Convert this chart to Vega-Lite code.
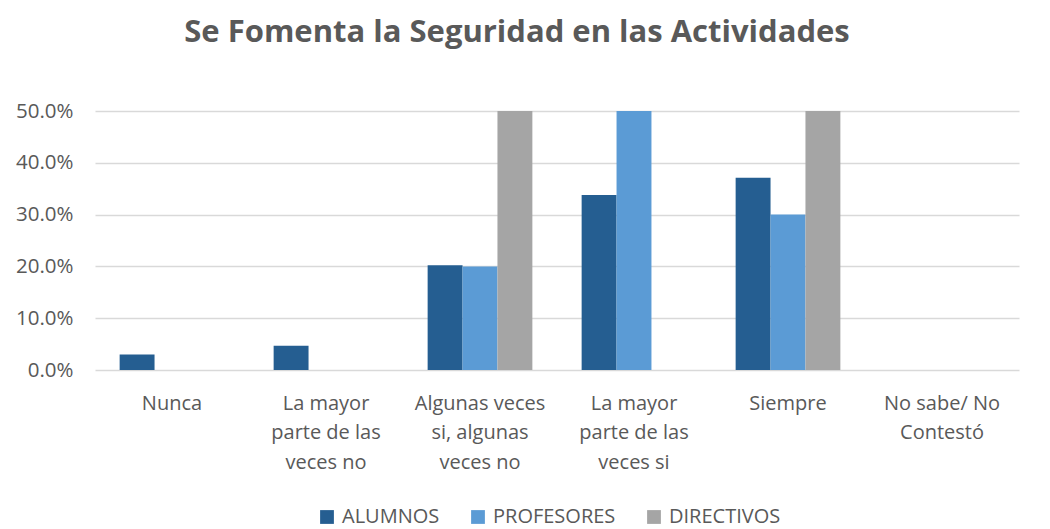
{
  "$schema": "https://vega.github.io/schema/vega-lite/v6.json",
  "autosize": {"type": "none"},
  "width": 924,
  "height": 259,
  "padding": {"left": 95, "top": 111, "right": 31, "bottom": 159},
  "background": "white",
  "title": {
    "text": "Se Fomenta la Seguridad en las Actividades",
    "font": "Open Sans",
    "fontSize": 31,
    "fontWeight": "bold",
    "color": "#595959",
    "anchor": "middle",
    "dx": -40,
    "offset": 52
  },
  "config": {"view": {"stroke": null}},
  "data": {
    "values": [
      {"categoria": "Nunca", "grupo": "ALUMNOS", "valor": 0.03},
      {"categoria": "Nunca", "grupo": "PROFESORES", "valor": 0},
      {"categoria": "Nunca", "grupo": "DIRECTIVOS", "valor": 0},
      {"categoria": "La mayor parte de las veces no", "grupo": "ALUMNOS", "valor": 0.047},
      {"categoria": "La mayor parte de las veces no", "grupo": "PROFESORES", "valor": 0},
      {"categoria": "La mayor parte de las veces no", "grupo": "DIRECTIVOS", "valor": 0},
      {"categoria": "Algunas veces si, algunas veces no", "grupo": "ALUMNOS", "valor": 0.202},
      {"categoria": "Algunas veces si, algunas veces no", "grupo": "PROFESORES", "valor": 0.2},
      {"categoria": "Algunas veces si, algunas veces no", "grupo": "DIRECTIVOS", "valor": 0.5},
      {"categoria": "La mayor parte de las veces si", "grupo": "ALUMNOS", "valor": 0.338},
      {"categoria": "La mayor parte de las veces si", "grupo": "PROFESORES", "valor": 0.5},
      {"categoria": "La mayor parte de las veces si", "grupo": "DIRECTIVOS", "valor": 0},
      {"categoria": "Siempre", "grupo": "ALUMNOS", "valor": 0.371},
      {"categoria": "Siempre", "grupo": "PROFESORES", "valor": 0.3},
      {"categoria": "Siempre", "grupo": "DIRECTIVOS", "valor": 0.5},
      {"categoria": "No sabe/ No Contestó", "grupo": "ALUMNOS", "valor": 0},
      {"categoria": "No sabe/ No Contestó", "grupo": "PROFESORES", "valor": 0},
      {"categoria": "No sabe/ No Contestó", "grupo": "DIRECTIVOS", "valor": 0}
    ]
  },
  "mark": {"type": "bar"},
  "encoding": {
    "x": {
      "field": "categoria",
      "type": "nominal",
      "sort": null,
      "scale": {"paddingInner": 0.32, "paddingOuter": 0.16},
      "axis": {
        "title": null,
        "domain": false,
        "ticks": false,
        "labelAngle": 0,
        "labelFont": "Open Sans",
        "labelFontSize": 20,
        "labelColor": "#595959",
        "labelPadding": 33,
        "labelLineHeight": 29.5,
        "labelBaseline": "middle",
        "labelExpr": "datum.value == 'La mayor parte de las veces no' ? ['La mayor','parte de las','veces no'] : datum.value == 'Algunas veces si, algunas veces no' ? ['Algunas veces','si, algunas','veces no'] : datum.value == 'La mayor parte de las veces si' ? ['La mayor','parte de las','veces si'] : datum.value == 'No sabe/ No Contestó' ? ['No sabe/ No','Contestó'] : datum.value"
      }
    },
    "xOffset": {"field": "grupo", "type": "nominal", "sort": ["ALUMNOS", "PROFESORES", "DIRECTIVOS"]},
    "y": {
      "field": "valor",
      "type": "quantitative",
      "scale": {"domain": [0, 0.5]},
      "axis": {
        "title": null,
        "format": ".1%",
        "values": [0, 0.1, 0.2, 0.3, 0.4, 0.5],
        "domain": false,
        "ticks": false,
        "gridColor": "#D9D9D9",
        "gridWidth": 1.5,
        "labelFont": "Open Sans",
        "labelFontSize": 20.5,
        "labelColor": "#595959",
        "labelPadding": 22
      }
    },
    "color": {
      "field": "grupo",
      "type": "nominal",
      "sort": ["ALUMNOS", "PROFESORES", "DIRECTIVOS"],
      "scale": {"domain": ["ALUMNOS", "PROFESORES", "DIRECTIVOS"], "range": ["#255E91", "#5B9BD5", "#A5A5A5"]},
      "legend": {
        "title": null,
        "orient": "none",
        "legendX": 222,
        "legendY": 396,
        "direction": "horizontal",
        "symbolType": "square",
        "symbolSize": 190,
        "symbolStrokeWidth": 0,
        "labelFont": "Open Sans",
        "labelFontSize": 20,
        "labelColor": "#595959",
        "columnPadding": 28,
        "labelOffset": 5
      }
    }
  }
}
